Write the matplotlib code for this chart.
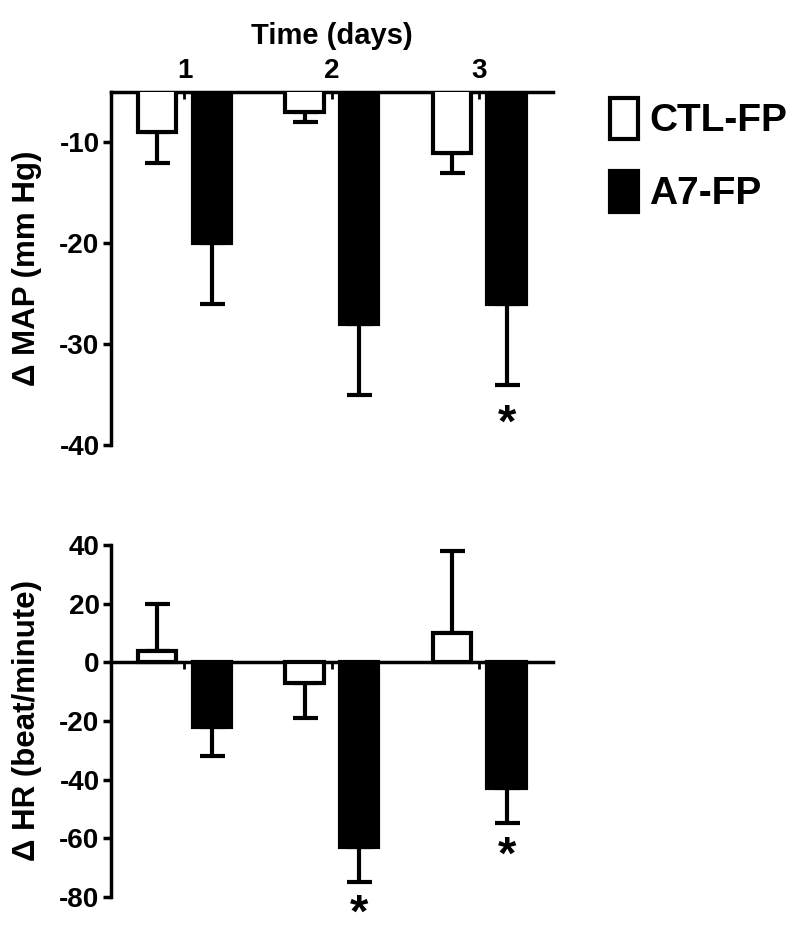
import matplotlib
matplotlib.use("Agg")
import matplotlib.pyplot as plt
from matplotlib.patches import Patch
import numpy as np

plt.rcParams['font.family'] = ['Liberation Sans', 'DejaVu Sans']
plt.rcParams['font.weight'] = 'bold'
plt.rcParams['axes.unicode_minus'] = False

days = [1, 2, 3]
groups = ["CTL-FP", "A7-FP"]

# delta MAP (mm Hg), mean and SEM
map_ctl = [-9, -7, -11]
map_ctl_err = [3, 1, 2]
map_a7 = [-20, -28, -26]
map_a7_err = [6, 7, 8]

# delta HR (beat/minute), mean and SEM
hr_ctl = [4, -7, 10]
hr_ctl_err = [16, 12, 28]
hr_a7 = [-22, -63, -43]
hr_a7_err = [10, 12, 12]

# significance marks (A7-FP bars)
map_star = [False, False, True]
hr_star = [False, True, True]

x = np.array(days, dtype=float)
off = 0.185
w = 0.26
lw = 3.0

fig = plt.figure(figsize=(8, 9.32), dpi=100)
ax1 = fig.add_axes([0.1384, 0.5225, 0.553, 0.3788])
ax2 = fig.add_axes([0.1384, 0.0379, 0.553, 0.377])


def one_side(vals, errs):
    # error bar drawn only away from zero
    vals = np.array(vals); errs = np.array(errs)
    lower = np.where(vals < 0, errs, 0)
    upper = np.where(vals >= 0, errs, 0)
    return [lower, upper]


def draw(ax, ctl, ctl_e, a7, a7_e, stars, star_off):
    ax.bar(x - off, ctl, w, color='white', edgecolor='black', linewidth=lw, zorder=3)
    ax.bar(x + off, a7, w, color='black', edgecolor='black', linewidth=lw, zorder=3)
    ax.errorbar(x - off, ctl, yerr=one_side(ctl, ctl_e), fmt='none', ecolor='black',
                elinewidth=3, capsize=9, capthick=3, zorder=2)
    ax.errorbar(x + off, a7, yerr=one_side(a7, a7_e), fmt='none', ecolor='black',
                elinewidth=3, capsize=9, capthick=3, zorder=2)
    for xi, m, e, s in zip(x + off, a7, a7_e, stars):
        if s:
            ax.annotate('*', xy=(xi, m - e), xytext=(0, star_off), textcoords='offset points',
                        ha='center', va='top', fontsize=34, fontweight='bold',
                        annotation_clip=False)
    ax.set_xlim(0.5, 3.5)
    ax.spines['right'].set_visible(False)
    ax.spines['left'].set_linewidth(2.5)
    ax.tick_params(axis='y', width=2.5, length=6, labelsize=20, direction='out', pad=2)


draw(ax1, map_ctl, map_ctl_err, map_a7, map_a7_err, map_star, -13)
ax1.set_ylim(-40, -5)
ax1.set_yticks([-40, -30, -20, -10])
ax1.spines['bottom'].set_visible(False)
ax1.spines['top'].set_linewidth(2.5)
ax1.xaxis.tick_top()
ax1.xaxis.set_label_position('top')
ax1.set_xticks(days)
ax1.tick_params(axis='x', width=2, length=5, direction='in', labelsize=20, pad=6)
ax1.set_xlabel('Time (days)', fontsize=21, fontweight='bold', labelpad=10)
ax1.set_ylabel('\u0394 MAP (mm Hg)', fontsize=22.5, fontweight='bold')
ax1.yaxis.set_label_coords(-0.155, 0.5)

draw(ax2, hr_ctl, hr_ctl_err, hr_a7, hr_a7_err, hr_star, -8)
ax2.set_ylim(-80, 40)
ax2.set_yticks([-80, -60, -40, -20, 0, 20, 40])
ax2.spines['top'].set_visible(False)
ax2.spines['bottom'].set_position(('data', 0))
ax2.spines['bottom'].set_linewidth(2.5)
ax2.set_xticks(days)
ax2.set_xticklabels([])
ax2.tick_params(axis='x', width=2, length=5, direction='out')
ax2.set_ylabel('\u0394 HR (beat/minute)', fontsize=22.5, fontweight='bold')
ax2.yaxis.set_label_coords(-0.155, 0.5)

for ax in (ax1, ax2):
    for lab in ax.get_yticklabels() + ax.get_xticklabels():
        lab.set_fontweight('bold')

handles = [Patch(facecolor='white', edgecolor='black', linewidth=3),
           Patch(facecolor='black', edgecolor='black', linewidth=3)]
fig.legend(handles, groups, loc='upper left', bbox_to_anchor=(0.762, 0.895),
           frameon=False, handlelength=0.72, handleheight=1.25,
           handletextpad=0.3, labelspacing=0.8, borderpad=0, borderaxespad=0,
           prop={'weight': 'bold', 'size': 28})

fig.savefig('out.png', dpi=100)
